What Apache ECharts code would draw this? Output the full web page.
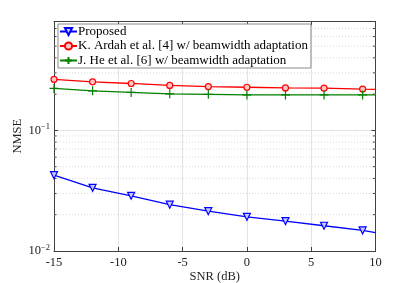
<!DOCTYPE html>
<html>
<head>
<meta charset="utf-8">
<script src="https://cdn.jsdelivr.net/npm/echarts@6/dist/echarts.min.js"></script>
<style>html,body{margin:0;padding:0;background:#fff;}#c{width:415px;height:283px;}</style>
</head>
<body>
<div id="c"></div>
<script>
var snr = [-15, -12, -9, -6, -3, 0, 3, 6, 9, 10];
var proposed = [0.0425, 0.0334, 0.0287, 0.0242, 0.0214, 0.0192, 0.0177, 0.0162, 0.0148, 0.0142];
var ardah = [0.265, 0.253, 0.245, 0.236, 0.231, 0.228, 0.225, 0.224, 0.220, 0.219];
var he = [0.223, 0.213, 0.2065, 0.201, 0.199, 0.197, 0.197, 0.197, 0.197, 0.197];
var xTicks = [-15, -10, -5, 0, 5, 10];
var yTicks = [0.01, 0.1];
var minorY = [0.02, 0.03, 0.04, 0.05, 0.06, 0.07, 0.08, 0.09, 0.2, 0.3, 0.4, 0.5, 0.6, 0.7];
var names = ['Proposed', 'K. Ardah et al. [4] w/ beamwidth adaptation', 'J. He et al. [6] w/ beamwidth adaptation'];

var FONT = 'Liberation Serif';
var AX = '#404040';
var GRID = '#e3e3e3';

function mk(vals) {
  return snr.map(function (x, i) {
    if (i === snr.length - 1) return { value: [x, vals[i]], symbol: 'none' };
    return [x, vals[i]];
  });
}

var chart = echarts.init(document.getElementById('c'), null, { renderer: 'canvas' });
var option = {
  animation: false,
  backgroundColor: '#fff',
  textStyle: { fontFamily: FONT },
  grid: { left: 54, right: 39.5, top: 21.5, bottom: 32, containLabel: false, outerBoundsMode: 'none' },
  legend: {
    data: names,
    orient: 'vertical',
    left: 58,
    top: 24,
    backgroundColor: '#fff',
    borderColor: '#8a8a8a',
    borderWidth: 1,
    borderRadius: 0,
    padding: [1, 3, 1, 1],
    itemGap: 1.5,
    itemWidth: 17,
    itemHeight: 9,
    textStyle: { fontFamily: FONT, fontSize: 13, color: '#000', padding: [0, 0, 0, -4] }
  },
  xAxis: [{
    type: 'value', min: -15, max: 10, interval: 5,
    name: 'SNR (dB)', nameLocation: 'middle', nameGap: 19, nameMoveOverlap: false,
    nameTextStyle: { fontFamily: FONT, fontSize: 12.5, color: '#222', verticalAlign: 'top' },
    axisLine: { show: true, onZero: false, lineStyle: { color: AX, width: 1 } },
    axisTick: { show: true, inside: true, length: 4, lineStyle: { color: AX } },
    axisLabel: { fontFamily: FONT, fontSize: 12.5, color: '#222', margin: 5,
      formatter: function (v) { return xTicks.indexOf(v) >= 0 ? String(v) : ''; } },
    splitLine: { show: true, lineStyle: { color: GRID, width: 1 } }
  }, {
    type: 'value', min: -15, max: 10, interval: 5, position: 'top',
    axisLine: { show: true, onZero: false, lineStyle: { color: AX, width: 1 } },
    axisTick: { show: true, inside: true, length: 4, lineStyle: { color: AX } },
    axisLabel: { show: false }, splitLine: { show: false }
  }],
  yAxis: [{
    type: 'log', logBase: 10, min: 0.01, max: 0.8,
    name: 'NMSE', nameLocation: 'middle', nameGap: 30, nameRotate: 90, nameMoveOverlap: false,
    nameTextStyle: { fontFamily: FONT, fontSize: 12.5, color: '#222' },
    axisLine: { show: true, onZero: false, lineStyle: { color: AX, width: 1 } },
    axisTick: { show: true, inside: true, length: 4, lineStyle: { color: AX } },
    axisLabel: {
      fontFamily: FONT, fontSize: 12.5, color: '#222', margin: 4,
      formatter: function (v) {
        var e = Math.log10(v);
        for (var i = 0; i < yTicks.length; i++) {
          if (Math.abs(v - yTicks[i]) < 1e-9) {
            return '{b|10}{s|\u2212' + Math.abs(Math.round(e)) + '}';
          }
        }
        return '';
      },
      rich: {
        b: { fontFamily: FONT, fontSize: 12.5, color: '#222' },
        s: { fontFamily: FONT, fontSize: 8.5, color: '#222', padding: [0, 0, 7, 0] }
      }
    },
    splitLine: { show: true, lineStyle: { color: GRID, width: 1 } }
  }, {
    type: 'log', logBase: 10, min: 0.01, max: 0.8, position: 'right',
    axisLine: { show: true, onZero: false, lineStyle: { color: AX, width: 1 } },
    axisTick: { show: true, inside: true, length: 4, lineStyle: { color: AX } },
    axisLabel: { show: false }, splitLine: { show: false }
  }],
  series: [{
    type: 'custom',
    name: 'minor',
    silent: true,
    z: 1,
    clip: false,
    data: minorY.map(function (v) { return [-15, v]; }),
    renderItem: function (params, api) {
      var v = api.value(1);
      var p0 = api.coord([-15, v]);
      var p1 = api.coord([10, v]);
      return {
        type: 'group',
        children: [
          { type: 'line', shape: { x1: p0[0], y1: p0[1], x2: p1[0], y2: p1[1] },
            style: { stroke: '#d8d8d8', lineWidth: 1, lineDash: [1, 2] } },
          { type: 'line', shape: { x1: p0[0], y1: p0[1], x2: p0[0] + 2.5, y2: p0[1] },
            style: { stroke: AX, lineWidth: 1 } },
          { type: 'line', shape: { x1: p1[0] - 2.5, y1: p1[1], x2: p1[0], y2: p1[1] },
            style: { stroke: AX, lineWidth: 1 } }
        ]
      };
    }
  }, {
    name: names[0], type: 'line', data: mk(proposed),
    symbol: 'triangle', symbolRotate: 180, symbolSize: 7,
    lineStyle: { color: '#0000ff', width: 1.3 },
    itemStyle: { color: '#c8c8ff', borderColor: '#0000ff', borderWidth: 1.2 },
    z: 5
  }, {
    name: names[1], type: 'line', data: mk(ardah),
    symbol: 'circle', symbolSize: 6,
    lineStyle: { color: '#ff0000', width: 1.3 },
    itemStyle: { color: '#ffc8c8', borderColor: '#ff0000', borderWidth: 1.2 },
    z: 5
  }, {
    name: names[2], type: 'line', data: mk(he),
    symbol: 'path://M5,0L5,10M0,5L10,5', symbolSize: 9, symbolKeepAspect: true,
    lineStyle: { color: '#008000', width: 1.3 },
    itemStyle: { color: 'none', borderColor: '#008000', borderWidth: 1.2 },
    z: 5
  }]
};
chart.setOption(option);
</script>
</body>
</html>
